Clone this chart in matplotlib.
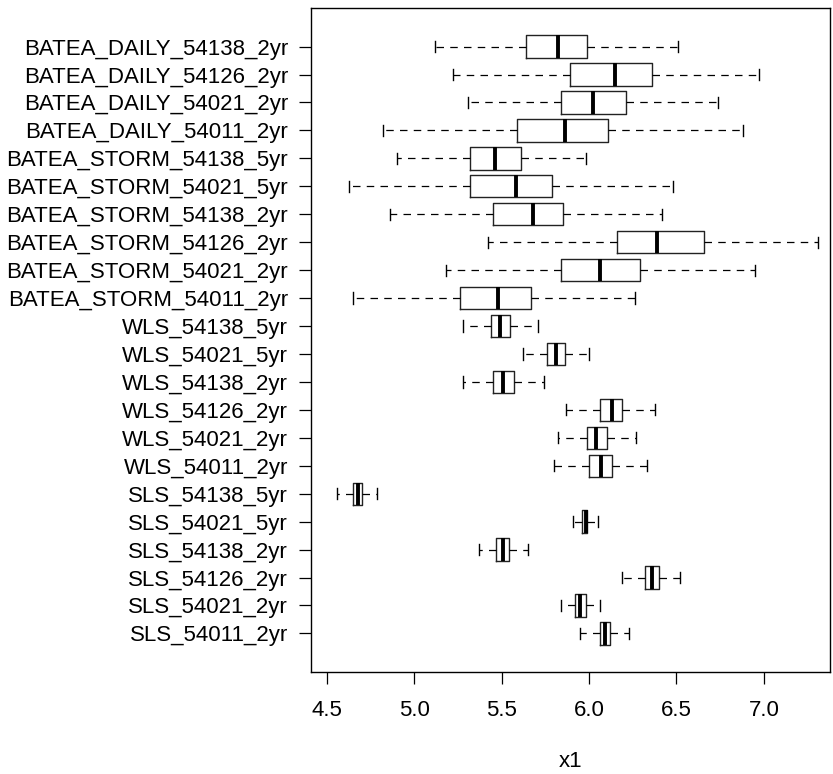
import matplotlib
matplotlib.use("Agg")
import matplotlib.pyplot as plt

plt.rcParams['font.family'] = ['Liberation Sans', 'DejaVu Sans']

# rows listed top to bottom as they appear in the chart
labels = ["BATEA_DAILY_54138_2yr", "BATEA_DAILY_54126_2yr", "BATEA_DAILY_54021_2yr",
          "BATEA_DAILY_54011_2yr", "BATEA_STORM_54138_5yr", "BATEA_STORM_54021_5yr",
          "BATEA_STORM_54138_2yr", "BATEA_STORM_54126_2yr", "BATEA_STORM_54021_2yr",
          "BATEA_STORM_54011_2yr", "WLS_54138_5yr", "WLS_54021_5yr", "WLS_54138_2yr",
          "WLS_54126_2yr", "WLS_54021_2yr", "WLS_54011_2yr", "SLS_54138_5yr",
          "SLS_54021_5yr", "SLS_54138_2yr", "SLS_54126_2yr", "SLS_54021_2yr", "SLS_54011_2yr"]
whislo = [5.12, 5.22, 5.31, 4.82, 4.90, 4.63, 4.86, 5.42, 5.18, 4.65, 5.28, 5.62, 5.28,
          5.87, 5.82, 5.80, 4.56, 5.91, 5.37, 6.19, 5.84, 5.95]
q1 = [5.64, 5.89, 5.84, 5.59, 5.32, 5.32, 5.45, 6.16, 5.84, 5.26, 5.44, 5.76, 5.45,
      6.06, 5.99, 6.00, 4.65, 5.96, 5.47, 6.32, 5.92, 6.06]
med = [5.82, 6.15, 6.02, 5.86, 5.46, 5.58, 5.68, 6.39, 6.06, 5.48, 5.49, 5.81, 5.51,
       6.13, 6.04, 6.07, 4.68, 5.98, 5.51, 6.36, 5.95, 6.09]
q3 = [5.99, 6.36, 6.21, 6.11, 5.61, 5.79, 5.85, 6.66, 6.29, 5.67, 5.55, 5.86, 5.57,
      6.19, 6.10, 6.13, 4.70, 5.99, 5.54, 6.40, 5.98, 6.12]
whishi = [6.51, 6.97, 6.74, 6.88, 5.98, 6.48, 6.42, 7.31, 6.95, 6.26, 5.71, 6.00, 5.74,
          6.38, 6.27, 6.33, 4.79, 6.05, 5.65, 6.52, 6.06, 6.23]

n = len(labels)
stats = []
for i in range(n):
    stats.append(dict(label=labels[i], whislo=whislo[i], q1=q1[i], med=med[i],
                      q3=q3[i], whishi=whishi[i], fliers=[]))
stats = stats[::-1]
positions = list(range(1, n + 1))

fig = plt.figure(figsize=(8.33, 7.74), dpi=100)
ax = fig.add_axes([311 / 833, 1 - 672 / 774, 519 / 833, 664 / 774])

ax.bxp(stats, positions=positions, vert=False, widths=0.8, capwidths=0.4,
       showfliers=False,
       boxprops=dict(color="#222222", linewidth=1.0),
       whiskerprops=dict(color="black", linewidth=0.9, linestyle=(0, (6, 5))),
       capprops=dict(color="black", linewidth=1.0),
       medianprops=dict(color="black", linewidth=2.8, solid_capstyle="butt"))

ax.set_xlim(4.41, 7.378)
ax.set_ylim(-0.38, n + 1.38)
ax.set_xticks([4.5, 5.0, 5.5, 6.0, 6.5, 7.0])
ax.set_xticklabels(["4.5", "5.0", "5.5", "6.0", "6.5", "7.0"])
ax.set_yticks(positions)
ax.set_yticklabels([s["label"] for s in stats])
ax.tick_params(axis="both", labelsize=16, length=8.5, width=0.9, colors="black")
ax.tick_params(axis="x", pad=12)
ax.tick_params(axis="y", pad=8)
for sp in ax.spines.values():
    sp.set_linewidth(1.0)
ax.set_xlabel("x1", fontsize=16, labelpad=21)

fig.savefig("out.png", dpi=100)
